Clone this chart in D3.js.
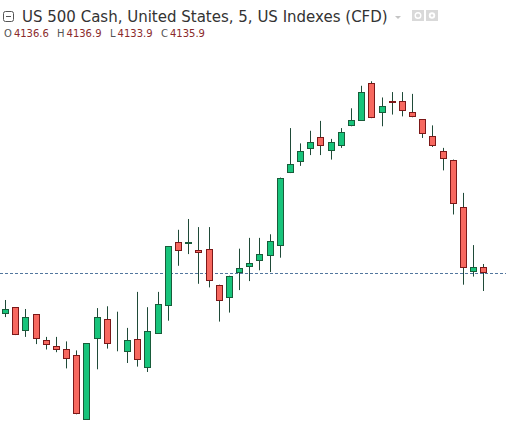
<!DOCTYPE html>
<html>
<head>
<meta charset="utf-8">
<script src="https://cdn.jsdelivr.net/npm/d3@7"></script>
<style>
  html, body { margin: 0; padding: 0; background: #fff; }
  svg { display: block; }
</style>
</head>
<body>
<div class="chart"></div>
<script>
var title = "US 500 Cash, United States, 5, US Indexes (CFD)";
var ohlcLabels = ["O", "H", "L", "C"];

// 5 minute bars, oldest first
var opens  = [4131.3, 4132.1, 4129.5, 4131.3, 4128.5, 4127.8, 4127.4, 4126.8, 4119.6, 4128.6,
              4130.8, 4127.4, 4127.2, 4128.6, 4125.4, 4129.2, 4132.2, 4139.3, 4139.1, 4138.4,
              4138.6, 4134.6, 4133.2, 4135.9, 4136.6, 4137.2, 4137.8, 4138.9, 4147.0, 4148.2,
              4149.6, 4151.0, 4149.4, 4150.0, 4152.2, 4152.8, 4157.0, 4153.6, 4155.0, 4155.0,
              4153.8, 4153.0, 4151.1, 4149.4, 4148.5, 4143.2, 4136.1, 4136.6];
var highs  = [4132.9, 4132.1, 4131.9, 4131.3, 4128.8, 4128.8, 4128.3, 4127.3, 4128.1, 4132.0,
              4132.2, 4131.6, 4129.8, 4133.8, 4132.1, 4133.8, 4138.9, 4140.7, 4141.9, 4141.0,
              4141.0, 4134.6, 4135.6, 4138.6, 4139.8, 4139.8, 4140.2, 4146.5, 4152.0, 4150.3,
              4151.7, 4152.8, 4150.8, 4152.0, 4154.2, 4156.7, 4157.2, 4155.4, 4156.0, 4156.0,
              4155.8, 4153.0, 4152.3, 4149.8, 4148.5, 4144.8, 4139.0, 4136.9];
var lows   = [4131.0, 4129.0, 4128.8, 4128.0, 4127.4, 4127.1, 4125.3, 4120.2, 4119.6, 4125.2,
              4127.5, 4127.2, 4125.9, 4125.5, 4124.9, 4129.2, 4130.6, 4136.7, 4138.0, 4134.7,
              4134.3, 4130.5, 4131.5, 4134.0, 4135.0, 4136.2, 4136.0, 4137.6, 4147.0, 4147.8,
              4149.0, 4149.0, 4148.5, 4149.8, 4152.2, 4152.8, 4153.1, 4152.2, 4153.5, 4153.3,
              4153.2, 4150.9, 4149.9, 4147.3, 4142.4, 4134.6, 4135.5, 4133.9];
var closes = [4131.9, 4129.0, 4131.0, 4128.5, 4128.0, 4127.4, 4126.3, 4120.2, 4128.1, 4131.0,
              4128.0, 4127.4, 4128.5, 4126.3, 4129.5, 4132.5, 4138.9, 4138.3, 4139.3, 4138.1,
              4135.0, 4132.8, 4135.6, 4136.5, 4137.0, 4138.0, 4139.5, 4146.5, 4148.0, 4149.4,
              4150.4, 4150.0, 4150.4, 4151.6, 4152.9, 4156.0, 4153.1, 4154.4, 4154.8, 4153.9,
              4153.2, 4151.3, 4150.0, 4148.5, 4143.6, 4136.4, 4136.6, 4135.9];

var width = 506, height = 435;
var n = closes.length;
var last = n - 1;

var bars = d3.range(n).map(function (i) {
    return { i: i, o: opens[i], h: highs[i], l: lows[i], c: closes[i] };
});

var x = d3.scaleLinear()
    .domain([0, n - 1])
    .range([5, 483.3]);
var y = d3.scaleLinear()
    .domain([4117.9, 4166.23])
    .range([height, 0]);

var svg = d3.select(".chart").append("svg")
    .attr("width", width)
    .attr("height", height);

// last price line
var lastY = Math.round(y(closes[last])) + 0.5;
svg.append("line")
    .attr("x1", 0).attr("x2", width)
    .attr("y1", lastY).attr("y2", lastY)
    .attr("stroke", "#52769e")
    .attr("stroke-width", 1)
    .attr("stroke-dasharray", "3,2");

var candles = svg.append("g")
    .selectAll("g")
    .data(bars)
    .enter().append("g")
    .attr("transform", function (d) { return "translate(" + Math.round(x(d.i)) + ",0)" });

candles.append("line")
    .attr("x1", 0.5).attr("x2", 0.5)
    .attr("y1", function (d) { return y(d.h) })
    .attr("y2", function (d) { return y(d.l) })
    .attr("stroke", "#1f4a38")
    .attr("stroke-width", 1);

candles.append("rect")
    .attr("x", -2.5)
    .attr("width", 6)
    .attr("y", function (d) { return Math.round(y(Math.max(d.o, d.c))) + 0.5 })
    .attr("height", function (d) { return Math.max(0, Math.round(Math.abs(y(d.o) - y(d.c))) - 1) })
    .attr("fill", function (d) { return d.c >= d.o ? "#17c47b" : "#f7685f" })
    .attr("stroke", function (d) {
        if (d.c == d.o) return "#1f4a38";
        return d.c > d.o ? "#185c3a" : "#7c1818";
    })
    .attr("stroke-width", 1);

// header
var head = svg.append("g");
head.append("rect")
    .attr("x", 3.5).attr("y", 11.5)
    .attr("width", 10).attr("height", 10)
    .attr("rx", 2)
    .attr("fill", "none")
    .attr("stroke", "#555");
head.append("line")
    .attr("x1", 6).attr("x2", 11)
    .attr("y1", 16.5).attr("y2", 16.5)
    .attr("stroke", "#555");

var titleText = head.append("text")
    .attr("x", 22).attr("y", 22)
    .attr("font-family", "DejaVu Sans")
    .attr("font-size", 14)
    .attr("fill", "#333")
    .text(title);
var tw = titleText.node().getComputedTextLength();
titleText.attr("font-size", 14 * 366 / tw);

head.append("path")
    .attr("d", "M395,16 L401,16 L398,19 Z")
    .attr("fill", "#c4c4c4");

head.append("rect")
    .attr("x", 412).attr("y", 10)
    .attr("width", 12).attr("height", 11)
    .attr("fill", "#d9d9d9");
head.append("circle")
    .attr("cx", 418).attr("cy", 15.5).attr("r", 2.8)
    .attr("fill", "none").attr("stroke", "#fff").attr("stroke-width", 1.4);
head.append("rect")
    .attr("x", 426).attr("y", 10)
    .attr("width", 12).attr("height", 11)
    .attr("fill", "#d9d9d9");
head.append("circle")
    .attr("cx", 432).attr("cy", 15.5).attr("r", 3.2)
    .attr("fill", "#fff");
head.append("circle")
    .attr("cx", 432).attr("cy", 15.5).attr("r", 1.3)
    .attr("fill", "#d9d9d9");

var ohlcValues = [opens[last], highs[last], lows[last], closes[last]];
var labelX = [4, 57, 110, 161];
var ohlc = head.selectAll(".ohlc")
    .data(ohlcValues)
    .enter().append("text")
    .attr("class", "ohlc")
    .attr("x", function (d, i) { return labelX[i] })
    .attr("y", 37)
    .attr("font-family", "DejaVu Sans")
    .attr("font-size", 10);
ohlc.append("tspan")
    .attr("fill", "#555")
    .text(function (d, i) { return ohlcLabels[i] });
ohlc.append("tspan")
    .attr("dx", 2)
    .attr("fill", "#8a2a2a")
    .text(function (d) { return d.toFixed(1) });
</script>
</body>
</html>
